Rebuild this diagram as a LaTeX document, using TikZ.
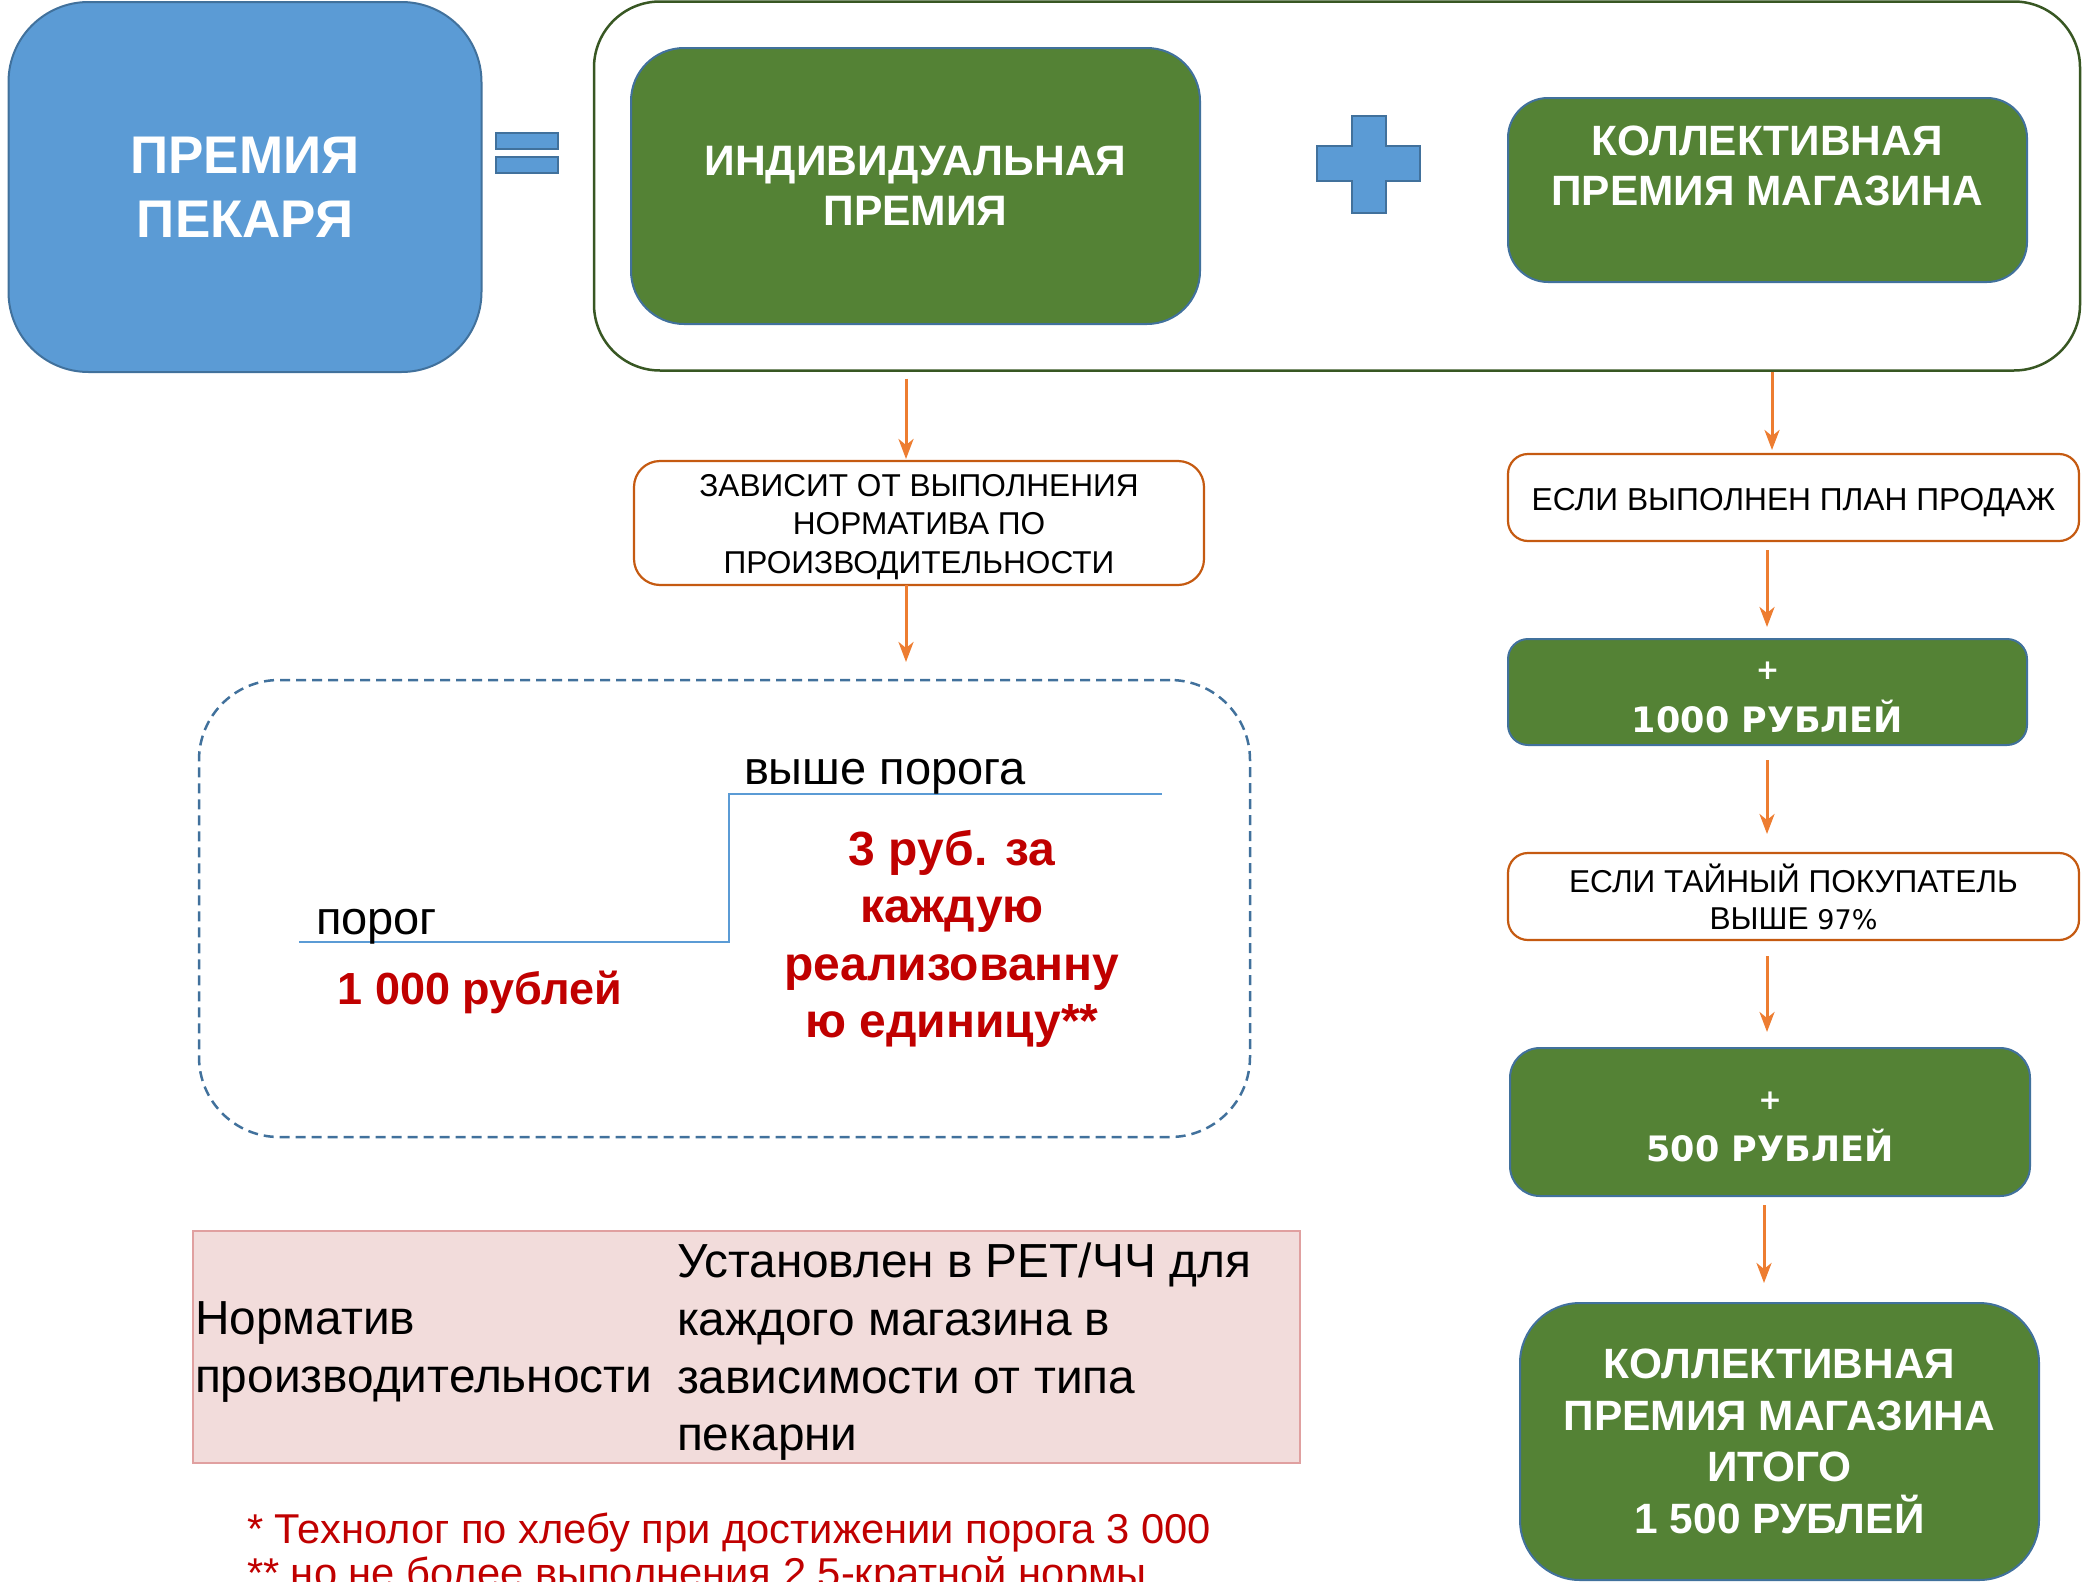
\documentclass[tikz,border=0pt]{standalone}
\usepackage{fontspec}
\setmainfont{Liberation Sans}
\newfontfamily\dvs{DejaVu Sans}
\usetikzlibrary{arrows.meta,calc}
\definecolor{bfill}{HTML}{5B9BD5}
\definecolor{bline}{HTML}{41719C}
\definecolor{gfill}{HTML}{548235}
\definecolor{gframe}{HTML}{385723}
\definecolor{orarrow}{HTML}{ED7D31}
\definecolor{orline}{HTML}{C55A11}
\definecolor{redtxt}{HTML}{C00000}
\definecolor{pinkfill}{HTML}{F2DCDB}
\definecolor{pinkline}{HTML}{E0A0A0}
\definecolor{dashc}{HTML}{41719C}
\begin{document}
\begin{tikzpicture}[x=1pt,y=-1pt,
  every node/.style={inner sep=0pt, outer sep=0pt},
  greenbox/.style={draw=bline, line width=2pt, fill=gfill, text=white, align=center},
  whitebox/.style={draw=orline, line width=2.2pt, fill=white, text=black, align=center},
  conn/.style={draw=orarrow, line width=3pt, -{Stealth[length=20pt,width=15pt,inset=6pt]}},
  wt/.style={text=white, align=center, font=\bfseries\fontsize{42.4}{50}\selectfont}
]
\useasboundingbox (0,0) rectangle (2083,1582);

% top-left blue box
\node[draw=bline, line width=2pt, fill=bfill, rounded corners=80pt,
      minimum width=473pt, minimum height=370pt, text=white, align=center,
      font=\bfseries\fontsize{53}{64}\selectfont] (premia) at (245,187) {ПРЕМИЯ\\ПЕКАРЯ};

% equals sign
\node[draw=bline, line width=1.5pt, fill=bfill, minimum width=62pt, minimum height=16pt] (eq1) at (527,141) {};
\node[draw=bline, line width=1.5pt, fill=bfill, minimum width=62pt, minimum height=16pt] (eq2) at (527,165) {};

% outer frame
\node[draw=gframe, line width=2.5pt, rounded corners=66pt, minimum width=1486pt, minimum height=369pt] (frame) at (1337,186) {};

% individual premium
\node[greenbox, rounded corners=53pt, minimum width=569pt, minimum height=276pt,
      font=\bfseries\fontsize{42.6}{50}\selectfont] (indiv) at (915.5,186) {ИНДИВИДУАЛЬНАЯ\\ПРЕМИЯ};

% plus sign
\draw[draw=bline, line width=1.5pt, fill=bfill]
  (1352,116) -- (1386,116) -- (1386,146) -- (1420,146) -- (1420,181) -- (1386,181)
  -- (1386,213) -- (1352,213) -- (1352,181) -- (1317,181) -- (1317,146) -- (1352,146) -- cycle;

% collective premium
\node[greenbox, rounded corners=40pt, minimum width=519pt, minimum height=184pt] (coll) at (1767.5,190) {};
\node[wt] (collt) at (1767,166) {КОЛЛЕКТИВНАЯ\\ПРЕМИЯ МАГАЗИНА};

% left column
\coordinate (ax1) at (906,0);
\node[whitebox, rounded corners=26pt, minimum width=570pt, minimum height=124pt] (zav) at (919,523) {};
\node[align=center, font=\fontsize{31.6}{38.5}\selectfont] (zavt) at (919,527)
      {ЗАВИСИТ ОТ ВЫПОЛНЕНИЯ\\НОРМАТИВА ПО\\ПРОИЗВОДИТЕЛЬНОСТИ};
\draw[conn, shorten <=8pt, shorten >=2pt] (frame.south -| ax1) -- (zav.north -| ax1);

\node[draw=dashc, line width=2.5pt, dash pattern=on 10pt off 6pt, rounded corners=80pt,
      minimum width=1051pt, minimum height=457pt] (dbox) at (724.5,908.5) {};
\draw[conn, shorten >=18pt] (zav.south -| ax1) -- (dbox.north -| ax1);

% step line
\coordinate (s1) at (299,942);
\coordinate (s2) at (729,942);
\coordinate (s3) at (729,794);
\coordinate (s4) at (1162,794);
\draw[draw=bfill, line width=2pt] (s1) -- (s2) -- (s3) -- (s4);

\node[anchor=base west, font=\fontsize{47}{50}\selectfont] (porog) at (316,934) {порог};
\node[anchor=base west, font=\fontsize{47}{50}\selectfont] (vyshe) at (744,784) {выше порога};
\node[anchor=base, text=redtxt, font=\bfseries\fontsize{45}{50}\selectfont] (rub1000) at (480,1004) {1 000 рублей};
\node[text=redtxt, align=center, font=\bfseries\fontsize{48}{57.5}\selectfont] (rub3) at (952,939)
      {3 руб. за\\каждую\\реализованну\\ю единицу**};

% table
\node[draw=pinkline, line width=2pt, fill=pinkfill, minimum width=1107pt, minimum height=232pt] (tbl) at (746.5,1347) {};
\node[anchor=west, align=left, font=\fontsize{47.8}{57.7}\selectfont] (tl) at (195,1352)
      {Норматив\\производительности};
\node[anchor=west, align=left, font=\fontsize{47.8}{57.7}\selectfont] (tr) at (677,1352)
      {Установлен в РЕТ/ЧЧ для\\каждого магазина в\\зависимости от типа\\пекарни};

% footnotes
\begin{scope}
\clip (0,0) rectangle (2083,1582);
\node[anchor=west, text=redtxt, font=\fontsize{41.7}{43}\selectfont] (fn1) at (247,1533)
      {* Технолог по хлебу при достижении порога 3 000};
\node[anchor=west, text=redtxt, font=\fontsize{41.7}{43}\selectfont] (fn2) at (247,1576)
      {** но не более выполнения 2,5-кратной нормы};
\end{scope}

% right column
\coordinate (ax3) at (1772,0);
\coordinate (ax4) at (1767,0);
\coordinate (ax7) at (1764,0);
\node[whitebox, rounded corners=20pt, minimum width=571pt, minimum height=87pt] (esli1) at (1793.5,497.5) {};
\node[font=\fontsize{31.7}{38}\selectfont] (esli1t) at (1793.5,503) {ЕСЛИ ВЫПОЛНЕН ПЛАН ПРОДАЖ};
\draw[conn, shorten <=1pt, shorten >=4pt] (frame.south -| ax3) -- (esli1.north -| ax3);

\node[greenbox, rounded corners=20pt, minimum width=519pt, minimum height=106pt] (p1000) at (1767.5,692) {};
\node[text=white, align=center, font=\dvs\bfseries\fontsize{35}{53}\selectfont] (p1000t) at (1767.5,697)
      {{\fontsize{28}{28}\selectfont +}\\1000 РУБЛЕЙ};
\draw[conn, shorten <=9pt, shorten >=12pt] (esli1.south -| ax4) -- (p1000.north -| ax4);

\node[whitebox, rounded corners=20pt, minimum width=571pt, minimum height=87pt,
      font=\fontsize{31.6}{37}\selectfont] (esli2) at (1793.5,896.5)
      {ЕСЛИ ТАЙНЫЙ ПОКУПАТЕЛЬ\\ВЫШЕ {\dvs\fontsize{27}{37}\selectfont 97\%}};
\draw[conn, shorten <=15pt, shorten >=19pt] (p1000.south -| ax4) -- (esli2.north -| ax4);

\node[greenbox, rounded corners=30pt, minimum width=520pt, minimum height=148pt] (p500) at (1770,1122) {};
\node[text=white, align=center, font=\dvs\bfseries\fontsize{35}{52}\selectfont] (p500t) at (1770,1127)
      {{\fontsize{28}{28}\selectfont +}\\500 РУБЛЕЙ};
\draw[conn, shorten <=16pt, shorten >=16pt] (esli2.south -| ax4) -- (p500.north -| ax4);

\node[greenbox, rounded corners=60pt, minimum width=519pt, minimum height=277pt,
      font=\bfseries\fontsize{42.4}{51.5}\selectfont] (final) at (1779.5,1441.5)
      {КОЛЛЕКТИВНАЯ\\ПРЕМИЯ МАГАЗИНА\\ИТОГО\\1 500 РУБЛЕЙ};
\draw[conn, shorten <=9pt, shorten >=20pt] (p500.south -| ax7) -- (final.north -| ax7);
\end{tikzpicture}
\end{document}
